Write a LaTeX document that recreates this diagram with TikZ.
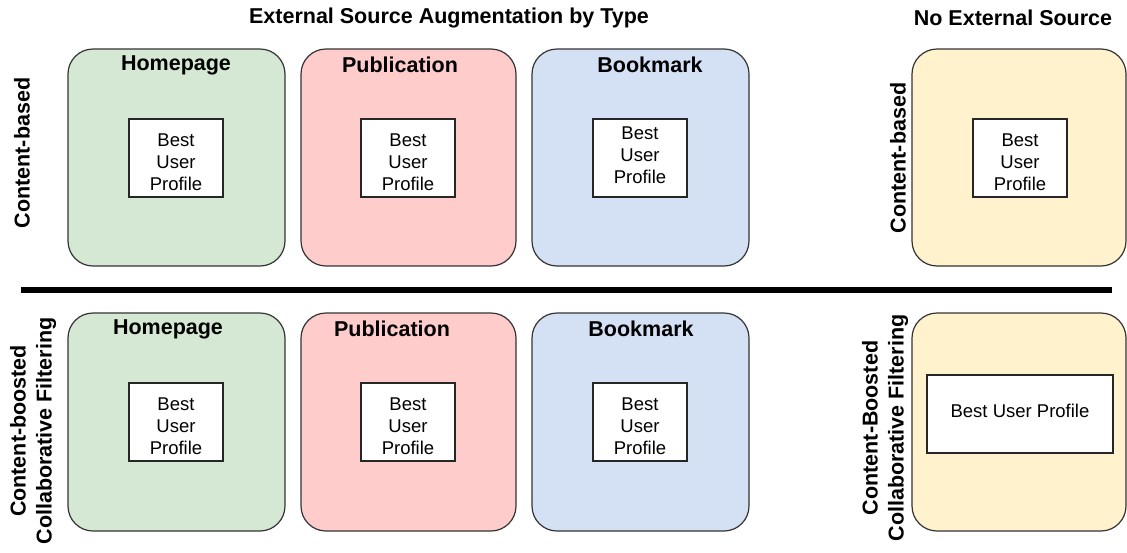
\documentclass[tikz,border=0pt]{standalone}
\usepackage{fontspec}
\setmainfont{Liberation Sans}
\begin{document}
\begin{tikzpicture}[x=1pt,y=-1pt,
  panel/.style={draw=black!80, line width=1.2pt, rounded corners=25pt,
    minimum width=217pt, minimum height=217pt, inner sep=0pt},
  profile/.style={draw=black!85, fill=white, line width=1.1pt,
    minimum width=94pt, minimum height=78pt, inner sep=0pt},
  ptext/.style={align=center, inner sep=0pt, font=\fontsize{18.5}{22}\selectfont},
  head/.style={inner sep=0pt, font=\fontsize{21.5}{26}\bfseries\selectfont},
  side/.style={inner sep=0pt, rotate=90, align=center,
    font=\fontsize{21.5}{26}\bfseries\selectfont},
]
\definecolor{pgreen}{HTML}{D5E8D4}
\definecolor{pred}{HTML}{FFCCCC}
\definecolor{pblue}{HTML}{D4E1F5}
\definecolor{pyellow}{HTML}{FFF2CC}
\useasboundingbox (0,0) rectangle (1127,552);

% column headings
\node[head] (t1) at (449,18) {External Source Augmentation by Type};
\node[head] (t2) at (1013,18) {No External Source};

% upper row: content-based
\node[panel, fill=pgreen] (g1) at (176.5,157.5) {};
\node[panel, fill=pred, minimum width=215pt] (r1) at (408.5,157.5) {};
\node[panel, fill=pblue] (b1) at (640.5,157.5) {};
\node[panel, fill=pyellow, minimum width=214pt] (y1) at (1019,157.5) {};

\node[head] (g1h) at (176,65) {Homepage};
\node[head] (r1h) at (400,65) {Publication};
\node[head] (b1h) at (650,65) {Bookmark};

\node[profile] (g1p) at (176,158) {};
\node[ptext] (g1t) at ([yshift=-4pt]g1p.center) {Best\\User\\Profile};
\node[profile] (r1p) at (408,158) {};
\node[ptext] (r1t) at ([yshift=-4pt]r1p.center) {Best\\User\\Profile};
\node[profile] (b1p) at (640,158) {};
\node[ptext] (b1t) at ([yshift=3pt]b1p.center) {Best\\User\\Profile};
\node[profile] (y1p) at (1020,158) {};
\node[ptext] (y1t) at ([yshift=-4pt]y1p.center) {Best\\User\\Profile};

\node[side] (l1) at (22,153) {Content-based};
\node[side] (l2) at (898,158) {Content-based};

% separator between the two rows
\coordinate (sepL) at (21,290);
\coordinate (sepR) at (1112,290);
\draw[line width=6pt] (sepL) -- (sepR);

% lower row: content-boosted collaborative filtering
\node[panel, fill=pgreen, minimum height=218pt] (g2) at (176.5,422) {};
\node[panel, fill=pred, minimum width=215pt, minimum height=218pt] (r2) at (408.5,422) {};
\node[panel, fill=pblue, minimum height=218pt] (b2) at (640.5,422) {};
\node[panel, fill=pyellow, minimum width=214pt, minimum height=218pt] (y2) at (1019,422) {};

\node[head] (g2h) at (168,329) {Homepage};
\node[head] (r2h) at (392,329) {Publication};
\node[head] (b2h) at (641,329) {Bookmark};

\node[profile] (g2p) at (176,422) {};
\node[ptext] (g2t) at ([yshift=-4pt]g2p.center) {Best\\User\\Profile};
\node[profile] (r2p) at (408,422) {};
\node[ptext] (r2t) at ([yshift=-4pt]r2p.center) {Best\\User\\Profile};
\node[profile] (b2p) at (640,422) {};
\node[ptext] (b2t) at ([yshift=-4pt]b2p.center) {Best\\User\\Profile};
\node[profile, minimum width=186pt] (y2p) at (1020,414) {};
\node[ptext] (y2t) at ([yshift=3pt]y2p.center) {Best User Profile};

\node[side] (l3) at (33,431) {Content-boosted\\Collaborative Filtering};
\node[side] (l4) at (885,428) {Content-Boosted\\Collaborative Filtering};
\end{tikzpicture}
\end{document}
